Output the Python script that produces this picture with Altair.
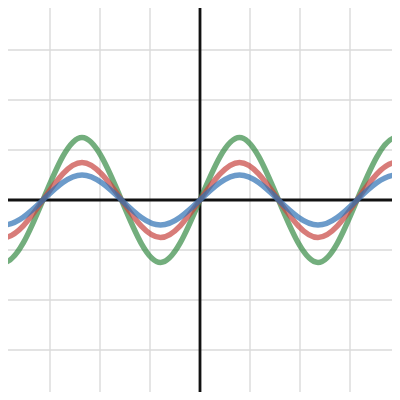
import altair as alt
import pandas as pd

# key points (zeros and extrema), x in graph units
x_keys = [-4.71, -3.93, -3.14, -2.36, -1.57, -0.79, 0.0, 0.79, 1.57, 2.36, 3.14, 3.93, 4.71]
green_y = [0, -1.25, 0, 1.25, 0, -1.25, 0, 1.25, 0, -1.25, 0, 1.25, 0]
red_y = [0, -0.75, 0, 0.75, 0, -0.75, 0, 0.75, 0, -0.75, 0, 0.75, 0]
blue_y = [0, -0.5, 0, 0.5, 0, -0.5, 0, 0.5, 0, -0.5, 0, 0.5, 0]
series_names = ["green", "red", "blue"]
series_colors = ["#388c46", "#c74440", "#2d70b3"]
grid_values = [-3, -2, -1, 1, 2, 3]

rows = []
for name, ys in zip(series_names, [green_y, red_y, blue_y]):
    for i, (xv, yv) in enumerate(zip(x_keys, ys)):
        rows.append({"s": name, "x": xv, "y": yv, "o": i})
curves = pd.DataFrame(rows)
grid = pd.DataFrame({"v": grid_values})
zero = pd.DataFrame({"v": [0]})

dom = [-3.84, 3.84]
xs = alt.Scale(domain=dom, nice=False, zero=False)
ys = alt.Scale(domain=dom, nice=False, zero=False)

vgrid = alt.Chart(grid).mark_rule(color="#dadada", strokeWidth=1.4).encode(
    x=alt.X("v:Q", scale=xs, axis=None))
hgrid = alt.Chart(grid).mark_rule(color="#dadada", strokeWidth=1.4).encode(
    y=alt.Y("v:Q", scale=ys, axis=None))
vaxis = alt.Chart(zero).mark_rule(color="#111111", strokeWidth=2.8).encode(
    x=alt.X("v:Q", scale=xs, axis=None))
haxis = alt.Chart(zero).mark_rule(color="#111111", strokeWidth=2.8).encode(
    y=alt.Y("v:Q", scale=ys, axis=None))

lines = alt.Chart(curves).mark_line(
    interpolate="natural", strokeWidth=5.5, strokeOpacity=0.7, clip=True
).encode(
    x=alt.X("x:Q", scale=xs, axis=None),
    y=alt.Y("y:Q", scale=ys, axis=None),
    detail="s:N",
    order="o:Q",
    color=alt.Color("s:N", scale=alt.Scale(domain=series_names, range=series_colors), legend=None),
)

chart = alt.layer(vgrid, hgrid, vaxis, haxis, lines).properties(
    width=384, height=384, padding=0, autosize=alt.AutoSizeParams(type="none")
).configure_view(stroke=None)

chart.save("out.html", embed_options={"renderer": "svg", "actions": False})
